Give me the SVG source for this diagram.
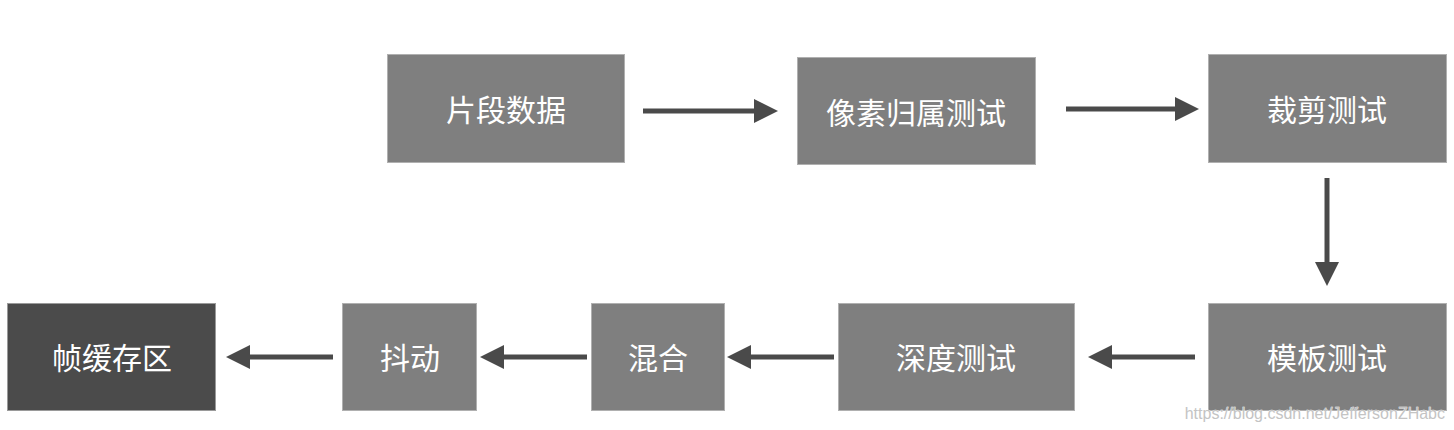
<svg xmlns="http://www.w3.org/2000/svg" width="1454" height="430" viewBox="0 0 1454 430">
<style>
.box{fill:#7f7f7f;stroke:#b0b0b0;stroke-width:1}
.dark{fill:#4b4b4b;stroke:#9a9a9a;stroke-width:1}
.lbl{fill:#ffffff;font-family:"Noto Sans CJK SC","Noto Sans",sans-serif;font-size:30px;text-anchor:middle;dominant-baseline:central}
.conn{stroke:#4a4a4a;stroke-width:5;fill:none}
.head{fill:#4a4a4a}
.url{fill:#c4c4c4;stroke:#ffffff;stroke-width:0.6;paint-order:stroke;font-family:"Liberation Sans",Arial,sans-serif;font-size:16px;text-anchor:end}
</style>
<rect width="1454" height="430" fill="#ffffff"/>
<g id="n1"><rect class="box" x="387.5" y="54.5" width="237" height="108"/><text class="lbl" x="506" y="108">片段数据</text></g>
<g id="n2"><rect class="box" x="797.5" y="57.5" width="238" height="107"/><text class="lbl" x="916" y="111">像素归属测试</text></g>
<g id="n3"><rect class="box" x="1208.5" y="54.5" width="238" height="108"/><text class="lbl" x="1327" y="108">裁剪测试</text></g>
<g id="n4"><rect class="box" x="1208.5" y="303.5" width="238" height="107"/><text class="lbl" x="1327" y="356">模板测试</text></g>
<g id="n5"><rect class="box" x="838.5" y="303.5" width="236" height="107"/><text class="lbl" x="956" y="356">深度测试</text></g>
<g id="n6"><rect class="box" x="591.5" y="303.5" width="133" height="107"/><text class="lbl" x="658" y="356">混合</text></g>
<g id="n7"><rect class="box" x="342.5" y="303.5" width="134" height="107"/><text class="lbl" x="410" y="356">抖动</text></g>
<g id="n8"><rect class="dark" x="7.5" y="303.5" width="208" height="107"/><text class="lbl" x="112" y="356">帧缓存区</text></g>
<g id="connectors">
<line class="conn" x1="643" y1="111" x2="756" y2="111"/><polygon class="head" points="754,99 778,111 754,123"/>
<line class="conn" x1="1066" y1="109" x2="1177" y2="109"/><polygon class="head" points="1175,97 1199,109 1175,121"/>
<line class="conn" x1="1327" y1="178" x2="1327" y2="264"/><polygon class="head" points="1315,262 1339,262 1327,286"/>
<line class="conn" x1="1195" y1="357" x2="1110" y2="357"/><polygon class="head" points="1112,345 1088,357 1112,369"/>
<line class="conn" x1="834" y1="357" x2="749" y2="357"/><polygon class="head" points="751,345 727,357 751,369"/>
<line class="conn" x1="587" y1="357" x2="502" y2="357"/><polygon class="head" points="504,345 480,357 504,369"/>
<line class="conn" x1="333" y1="357" x2="248" y2="357"/><polygon class="head" points="250,345 226,357 250,369"/>
</g>
<text class="url" x="1445" y="419">https://blog.csdn.net/JeffersonZHabc</text>
</svg>
